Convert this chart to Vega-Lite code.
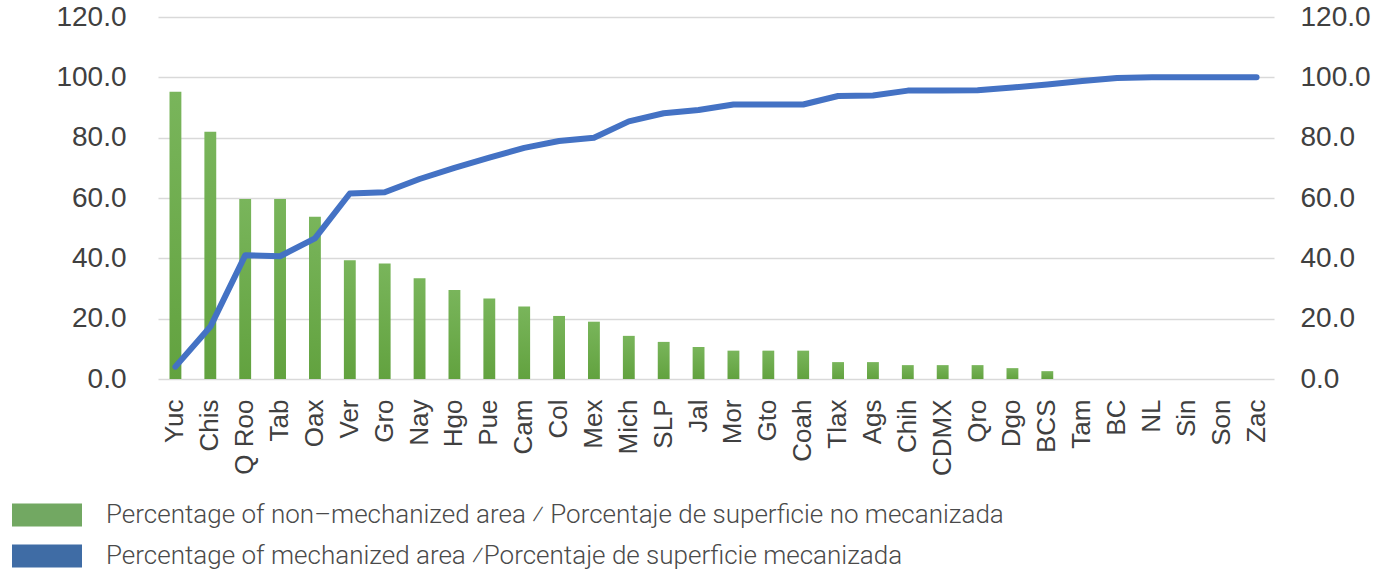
{
  "$schema": "https://vega.github.io/schema/vega-lite/v6.json",
  "width": 1116,
  "height": 362,
  "autosize": "none",
  "padding": {"left": 158, "top": 17, "right": 108, "bottom": 193},
  "config": {
    "view": {"stroke": null},
    "axis": {
      "labelFont": "Liberation Sans",
      "labelColor": "#404040",
      "domain": false,
      "ticks": false,
      "title": null
    },
    "legend": {
      "orient": "none",
      "legendX": -124,
      "legendY": 485,
      "title": null,
      "padding": 0,
      "symbolType": "M-3.5,-1.15L3.5,-1.15L3.5,1.15L-3.5,1.15Z",
      "symbolSize": 400,
      "symbolStrokeWidth": 0,
      "labelFont": "Roboto",
      "labelFontWeight": 300,
      "labelFontSize": 26,
      "labelColor": "#4a4a4a",
      "labelOffset": 46,
      "labelLimit": 0,
      "rowPadding": 15
    }
  },
  "data": {
    "values": [
      {"state": "Yuc", "nonmech": 95.2, "mech": 4.1},
      {"state": "Chis", "nonmech": 82.0, "mech": 17.3},
      {"state": "Q Roo", "nonmech": 59.7, "mech": 41.0},
      {"state": "Tab", "nonmech": 59.7, "mech": 40.7},
      {"state": "Oax", "nonmech": 53.8, "mech": 46.6},
      {"state": "Ver", "nonmech": 39.4, "mech": 61.5},
      {"state": "Gro", "nonmech": 38.3, "mech": 61.9},
      {"state": "Nay", "nonmech": 33.4, "mech": 66.3},
      {"state": "Hgo", "nonmech": 29.5, "mech": 70.0},
      {"state": "Pue", "nonmech": 26.7, "mech": 73.4},
      {"state": "Cam", "nonmech": 24.0, "mech": 76.6},
      {"state": "Col", "nonmech": 20.9, "mech": 78.9},
      {"state": "Mex", "nonmech": 19.0, "mech": 80.0},
      {"state": "Mich", "nonmech": 14.3, "mech": 85.4},
      {"state": "SLP", "nonmech": 12.3, "mech": 88.1},
      {"state": "Jal", "nonmech": 10.6, "mech": 89.2},
      {"state": "Mor", "nonmech": 9.4, "mech": 91.0},
      {"state": "Gto", "nonmech": 9.4, "mech": 91.0},
      {"state": "Coah", "nonmech": 9.4, "mech": 91.0},
      {"state": "Tlax", "nonmech": 5.6, "mech": 93.8},
      {"state": "Ags", "nonmech": 5.6, "mech": 94.0},
      {"state": "Chih", "nonmech": 4.6, "mech": 95.6},
      {"state": "CDMX", "nonmech": 4.6, "mech": 95.6},
      {"state": "Qro", "nonmech": 4.6, "mech": 95.7},
      {"state": "Dgo", "nonmech": 3.6, "mech": 96.6},
      {"state": "BCS", "nonmech": 2.6, "mech": 97.6},
      {"state": "Tam", "nonmech": 0, "mech": 98.8},
      {"state": "BC", "nonmech": 0, "mech": 99.8},
      {"state": "NL", "nonmech": 0, "mech": 100},
      {"state": "Sin", "nonmech": 0, "mech": 100},
      {"state": "Son", "nonmech": 0, "mech": 100},
      {"state": "Zac", "nonmech": 0, "mech": 100}
    ]
  },
  "encoding": {
    "x": {
      "field": "state",
      "type": "nominal",
      "sort": null,
      "scale": {"paddingInner": 0.66, "paddingOuter": 0.33},
      "axis": {
        "labelAngle": 270,
        "labelAlign": "right",
        "labelBaseline": "middle",
        "labelFontSize": 26,
        "labelPadding": 20
      }
    }
  },
  "layer": [
    {
      "mark": {
        "type": "bar",
        "fill": {
          "gradient": "linear",
          "x1": 0, "y1": 0, "x2": 0, "y2": 1,
          "stops": [
            {"offset": 0, "color": "#79b55b"},
            {"offset": 1, "color": "#62a23f"}
          ]
        }
      },
      "encoding": {
        "y": {
          "field": "nonmech",
          "type": "quantitative",
          "scale": {"domain": [0, 120], "nice": false},
          "axis": {
            "values": [0, 20, 40, 60, 80, 100, 120],
            "format": ".1f",
            "labelFontSize": 28,
            "labelPadding": 32,
            "grid": true,
            "gridColor": "#d9d9d9",
            "gridWidth": 1.5
          }
        },
        "color": {
          "datum": "Percentage of non–mechanized area ⁄ Porcentaje de superficie no mecanizada",
          "scale": {
            "domain": [
              "Percentage of non–mechanized area ⁄ Porcentaje de superficie no mecanizada",
              "Percentage of mechanized area ⁄Porcentaje de superficie mecanizada"
            ],
            "range": ["#72a862", "#3f6ca5"]
          },
          "legend": {
            "encode": {
              "symbols": {
                "update": {
                  "fill": {"scale": "color", "field": "value"},
                  "opacity": {"value": 1}
                }
              }
            }
          }
        }
      }
    },
    {
      "mark": {"type": "line", "stroke": "#4472c4", "strokeWidth": 6, "strokeCap": "round", "strokeJoin": "round"},
      "encoding": {
        "y": {
          "field": "mech",
          "type": "quantitative",
          "scale": {"domain": [0, 120], "nice": false},
          "axis": {
            "orient": "right",
            "values": [0, 20, 40, 60, 80, 100, 120],
            "format": ".1f",
            "labelFontSize": 28,
            "labelPadding": 26,
            "labelAlign": "left",
            "grid": false
          }
        },
        "color": {
          "datum": "Percentage of mechanized area ⁄Porcentaje de superficie mecanizada"
        }
      }
    }
  ],
  "resolve": {"scale": {"y": "independent"}}
}
